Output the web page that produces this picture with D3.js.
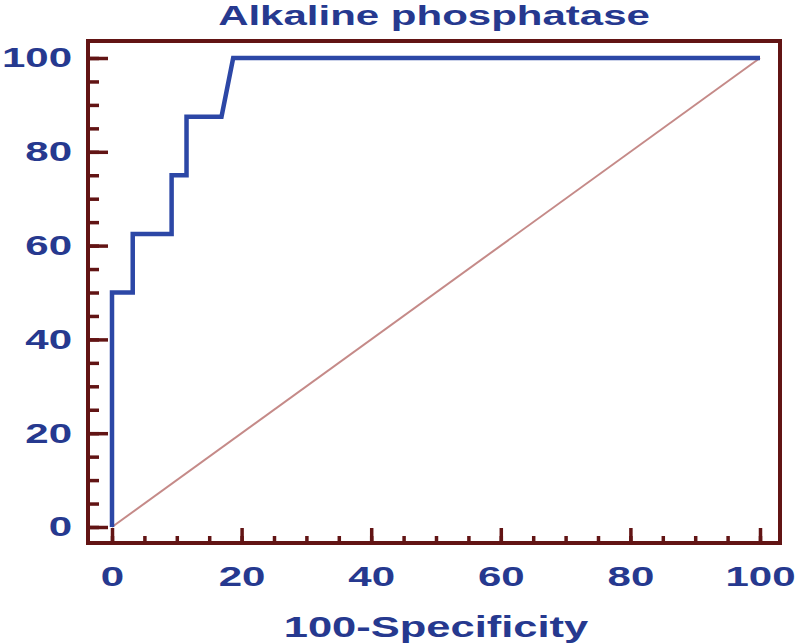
<!DOCTYPE html>
<html>
<head>
<meta charset="utf-8">
<script src="https://cdn.jsdelivr.net/npm/d3@7"></script>
<style>
  body { margin: 0; background: #fff; }
  text { font-family: "Liberation Sans", Arial, sans-serif; font-weight: bold; }
</style>
</head>
<body>
<div id="chart"></div>
<script>
// ROC curve points (100-Specificity, Sensitivity)
const fpr = [0, 0, 3.2, 3.2, 9.2, 9.2, 11.5, 11.5, 16.9, 18.7, 100];
const tpr = [0, 50, 50, 62.5, 62.5, 75, 75, 87.5, 87.5, 100, 100];
const refLine = [0, 100];
const majorTicks = [0, 20, 40, 60, 80, 100];
const minorTicks = d3.range(0, 101, 5);
const title = "Alkaline phosphatase";
const xLabel = "100-Specificity";

const width = 800, height = 644;
const stretch = 1.5; // the original lettering is wide
const axisColor = "#621414", textColor = "#26398f";

const svg = d3.select("#chart")
  .append("svg")
  .attr("width", width)
  .attr("height", height);

const x = d3.scaleLinear().domain([0, 100]).range([112, 760]);
const y = d3.scaleLinear().domain([0, 100]).range([527, 58]);

// frame around the plot
const frame = { left: 88, right: 780, top: 41, bottom: 543 };

// reference diagonal
svg.append("line")
  .attr("x1", x(refLine[0])).attr("y1", y(refLine[0]))
  .attr("x2", x(refLine[1])).attr("y2", y(refLine[1]))
  .attr("stroke", "#c58a88")
  .attr("stroke-width", 2);

// roc curve
const pts = fpr.map((d, i) => [d, tpr[i]]);
svg.append("path")
  .datum(pts)
  .attr("fill", "none")
  .attr("stroke", "#2c47a6")
  .attr("stroke-width", 4.5)
  .attr("stroke-linejoin", "miter")
  .attr("d", d3.line().x(d => x(d[0])).y(d => y(d[1])));

// y axis, ticks pointing into the plot
const yMinor = svg.append("g")
  .attr("transform", `translate(${frame.left},0)`)
  .call(d3.axisLeft(y).tickValues(minorTicks).tickSizeInner(-11).tickSizeOuter(0).tickFormat(""));
const yMajor = svg.append("g")
  .attr("transform", `translate(${frame.left},0)`)
  .call(d3.axisLeft(y).tickValues(majorTicks).tickSizeInner(-20).tickSizeOuter(0).tickPadding(16));

// x axis, ticks pointing up
const xMinor = svg.append("g")
  .attr("transform", `translate(0,${frame.bottom})`)
  .call(d3.axisBottom(x).tickValues(minorTicks).tickSizeInner(-7).tickSizeOuter(0).tickFormat(""));
const xMajor = svg.append("g")
  .attr("transform", `translate(0,${frame.bottom})`)
  .call(d3.axisBottom(x).tickValues(majorTicks).tickSizeInner(-15).tickSizeOuter(0).tickPadding(23));

[yMinor, yMajor, xMinor, xMajor].forEach(g => {
  g.select(".domain").remove();
  g.selectAll(".tick line").attr("stroke", axisColor).attr("stroke-width", 3.5);
});

yMajor.selectAll(".tick text")
  .attr("x", -16 / stretch)
  .attr("transform", `scale(${stretch},1)`)
  .attr("fill", textColor)
  .style("font-size", "28px");

xMajor.selectAll(".tick text")
  .attr("transform", `scale(${stretch},1)`)
  .attr("fill", textColor)
  .style("font-size", "28px");

svg.append("rect")
  .attr("x", frame.left).attr("y", frame.top)
  .attr("width", frame.right - frame.left)
  .attr("height", frame.bottom - frame.top)
  .attr("fill", "none")
  .attr("stroke", axisColor)
  .attr("stroke-width", 4);

// title and axis label
svg.append("text")
  .attr("transform", `translate(434,25) scale(${stretch},1)`)
  .attr("text-anchor", "middle")
  .attr("fill", textColor)
  .style("font-size", "28px")
  .text(title);

svg.append("text")
  .attr("transform", `translate(436,637) scale(${stretch},1)`)
  .attr("text-anchor", "middle")
  .attr("fill", textColor)
  .style("font-size", "29px")
  .text(xLabel);
</script>
</body>
</html>
